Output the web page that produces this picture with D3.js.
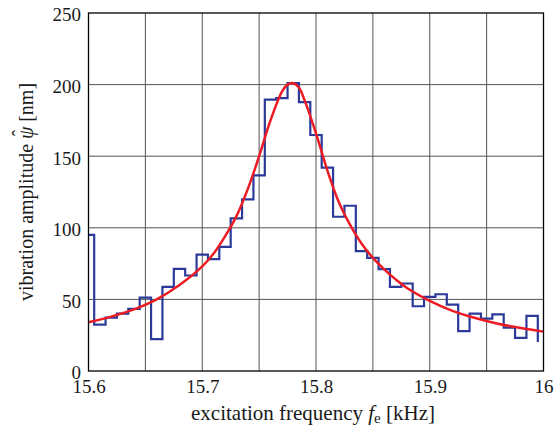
<!DOCTYPE html>
<html>
<head>
<meta charset="utf-8">
<script src="https://cdn.jsdelivr.net/npm/d3@7"></script>
<style>
    body { margin: 0; background: #fff; }
    svg { display: block; }
    svg text { font-family: "Liberation Serif", "Times New Roman", Times, serif; }
</style>
</head>
<body>
<svg class="resonance-chart" width="555" height="427"></svg>
<script>
// Measured amplitude, one value per 10 Hz bin (stairs start at 15.595 kHz)
const stepStart = 15.595;
const stepWidth = 0.01;
const measuredAmp = [95, 32.4, 37.3, 40.1, 43.4, 51.3, 22.2, 58.7, 71.3, 66.7,
    81.2, 78.1, 86.7, 106.6, 119.8, 136.6, 189.5, 190.5, 201, 187.7,
    164.8, 142, 107.7, 115.4, 83.7, 79, 71.1, 58.7, 61.1, 45.2,
    51.7, 53.6, 46.4, 27.8, 40.1, 36.6, 39.6, 30.3, 23.1, 38.5, 20.3];

// Fitted resonance curve
const fitFreq = [15.60, 15.62, 15.64, 15.66, 15.68, 15.70, 15.71, 15.72, 15.73, 15.74,
    15.75, 15.76, 15.77, 15.775, 15.78, 15.785, 15.79, 15.80, 15.81, 15.82, 15.83, 15.84,
    15.85, 15.86, 15.87, 15.88, 15.90, 15.92, 15.94, 15.96, 15.98, 16.00];
const fitAmp = [34, 38, 43, 50, 60, 73, 82, 94, 108, 127,
    150, 175, 195, 200, 201, 198, 189, 166, 140, 118, 102, 89,
    79, 71, 64, 58, 49, 42, 37, 33, 30, 27.5];

// Axis ticks
const xTicks = [15.6, 15.7, 15.8, 15.9, 16];
const xGrid = [15.65, 15.7, 15.75, 15.8, 15.85, 15.9, 15.95];
const yTicks = [0, 50, 100, 150, 200, 250];

const tick_fontSize = 19;
const xTitle_fontSize = 21;
const yTitle_fontSize = 20;
const font_color = "#1a1a1a";

const svg = d3.select(".resonance-chart");
const margin = { top: 13, right: 11.5, bottom: 56, left: 88.5 };
const chartWidth = 555 - margin.left - margin.right;
const chartHeight = 427 - margin.top - margin.bottom;

const g = svg.append("g")
    .attr("transform", `translate(${margin.left},${margin.top})`);

// Scales
const x = d3.scaleLinear().domain([15.6, 16]).range([0, chartWidth]);
const y = d3.scaleLinear().domain([0, 250]).range([chartHeight, 0]);

// Clip
svg.append("defs").append("clipPath").attr("id", "plot-clip")
    .append("rect").attr("width", chartWidth).attr("height", chartHeight);

// Grid
g.append("g").selectAll("line").data(xGrid).enter().append("line")
    .attr("x1", d => x(d)).attr("x2", d => x(d))
    .attr("y1", 0).attr("y2", chartHeight)
    .attr("stroke", "#555").attr("stroke-width", 1);
g.append("g").selectAll("line").data(yTicks.slice(1, -1)).enter().append("line")
    .attr("x1", 0).attr("x2", chartWidth)
    .attr("y1", d => y(d)).attr("y2", d => y(d))
    .attr("stroke", "#555").attr("stroke-width", 1);

// Measured stairs
const stairs = measuredAmp.map((v, i) => ({ f: stepStart + i * stepWidth, v }));
g.append("path")
    .datum(stairs)
    .attr("clip-path", "url(#plot-clip)")
    .attr("fill", "none")
    .attr("stroke", "#2b3a98")
    .attr("stroke-width", 2.2)
    .attr("d", d3.line().x(d => x(d.f)).y(d => y(d.v)).curve(d3.curveStepAfter));

// Fit curve
g.append("path")
    .datum(fitFreq.map((f, i) => ({ f, v: fitAmp[i] })))
    .attr("clip-path", "url(#plot-clip)")
    .attr("fill", "none")
    .attr("stroke", "#ec1c24")
    .attr("stroke-width", 2.5)
    .attr("d", d3.line().x(d => x(d.f)).y(d => y(d.v)).curve(d3.curveCatmullRom.alpha(0.5)));

// Frame
g.append("rect")
    .attr("width", chartWidth).attr("height", chartHeight)
    .attr("fill", "none").attr("stroke", "#000").attr("stroke-width", 1.3);

// Axes (labels only, grid drawn above)
const xAxis = g.append("g")
    .attr("transform", `translate(0,${chartHeight})`)
    .call(d3.axisBottom(x).tickValues(xTicks).tickSize(0).tickPadding(8.5).tickFormat(d3.format("")));
const yAxis = g.append("g")
    .call(d3.axisLeft(y).tickValues(yTicks).tickSize(0).tickPadding(7.5));
[xAxis, yAxis].forEach(a => {
    a.attr("font-family", null).attr("font-size", null);
    a.select(".domain").remove();
    a.selectAll("text")
        .style("font-size", tick_fontSize + "px")
        .attr("fill", font_color);
});
yAxis.selectAll("text").attr("dy", "0.42em");

// X title
const xTitle = g.append("text")
    .attr("x", chartWidth / 2 - 3)
    .attr("y", chartHeight + 49)
    .attr("text-anchor", "middle")
    .style("font-size", xTitle_fontSize + "px")
    .attr("fill", font_color);
xTitle.append("tspan").text("excitation frequency ");
xTitle.append("tspan").style("font-style", "italic").text("f");
xTitle.append("tspan").style("font-size", "15px").attr("dy", 3).text("e");
xTitle.append("tspan").attr("dy", -3).text(" [kHz]");

// Y title
const yTitle = g.append("text")
    .attr("transform", "rotate(-90)")
    .attr("x", -chartHeight / 2)
    .attr("y", 33 - margin.left)
    .attr("text-anchor", "middle")
    .style("font-size", yTitle_fontSize + "px")
    .attr("fill", font_color);
yTitle.append("tspan").text("vibration amplitude ");
yTitle.append("tspan").style("font-style", "italic").text("\u03C8");
yTitle.append("tspan").attr("dx", -10).attr("dy", -6).text("\u02C6");
yTitle.append("tspan").attr("dx", 3).attr("dy", 6).text(" [nm]");
</script>
</body>
</html>
